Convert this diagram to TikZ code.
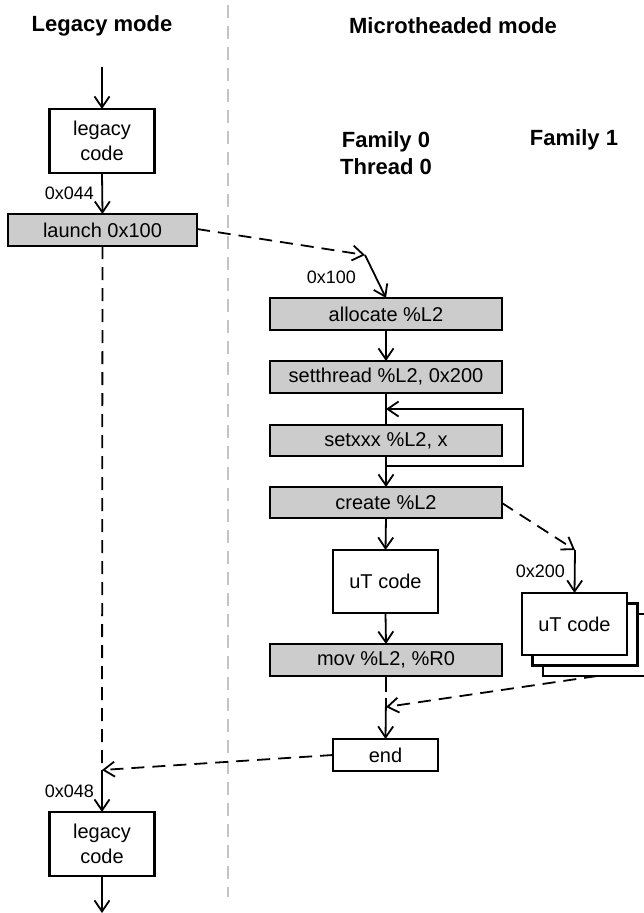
\documentclass[tikz,border=0pt]{standalone}
\usepackage{fontspec}
\setmainfont{Liberation Sans}
\usetikzlibrary{arrows.meta}
\definecolor{boxgray}{HTML}{CCCCCC}
\definecolor{divgray}{HTML}{C4C4C4}
\begin{document}
\begin{tikzpicture}[x=1pt,y=-1pt,
  every node/.style={inner sep=0pt, outer sep=0pt},
  box/.style={draw, line width=2.1pt, align=center, font=\fontsize{20}{25}\selectfont},
  graybox/.style={box, fill=boxgray, minimum width=232pt, minimum height=32pt},
  whitebox/.style={box, fill=white, minimum width=105pt},
  lbl/.style={font=\fontsize{18}{21}\selectfont, anchor=east},
  ttl/.style={font=\fontsize{22}{26}\selectfont\bfseries, align=center},
  conn/.style={line width=1.8pt, -{Straight Barb[length=11pt,width=15pt,line width=1.8pt]}},
  plain/.style={line width=1.8pt},
  dconn/.style={conn, dash pattern=on 13pt off 8pt},
  dplain/.style={plain, dash pattern=on 13pt off 8pt},
  divider/.style={line width=1.8pt, divgray, dash pattern=on 13pt off 8pt}
]
\useasboundingbox (0,0) rectangle (644,913);

% titles
\node[ttl] (tleg) at (102,26) {Legacy mode};
\node[ttl] (tmic) at (453,26) {Microtheaded mode};
\node[ttl, font=\fontsize{22}{27}\selectfont\bfseries] (tf0) at (386,153) {Family 0\\Thread 0};
\node[ttl] (tf1) at (574,140) {Family 1};

% divider
\coordinate (dtop) at (228,5);
\coordinate (dbot) at (228,897);
\draw[divider] (dtop) -- (dbot);

% legacy column
\coordinate (in) at (102,67);
\node[whitebox, minimum height=64pt] (leg1) at (102,141) {legacy\\code};
\node[graybox, minimum width=189pt] (launch) at (102.5,230) {launch 0x100};
\node[whitebox, minimum height=64pt] (leg2) at (102,844) {legacy\\code};
\coordinate (out) at (102,913);
\coordinate (j2) at (102,770);

% family 0 column
\node[graybox] (alloc) at (386,314) {allocate \%L2};
\node[graybox] (setthr) at (386,377) {setthread \%L2, 0x200};
\node[graybox, minimum height=31pt] (setxxx) at (386,440.5) {setxxx \%L2, x};
\node[graybox, minimum height=31pt] (create) at (386,502.5) {create \%L2};
\node[whitebox, minimum height=63pt] (ut0) at (385.5,581.5) {uT code};
\node[graybox] (mov) at (386,660) {mov \%L2, \%R0};
\node[whitebox, minimum height=32pt] (endn) at (385.5,755) {end};

% family 1 stack
\node[whitebox, minimum height=62pt] (ut3) at (595.5,645) {};
\node[whitebox, minimum height=62pt] (ut2) at (585,634.5) {};
\node[whitebox, minimum height=62pt] (ut1) at (574.5,624) {uT code};

% coordinates
\coordinate (c1) at (365,255);
\coordinate (c2) at (575,550);
\coordinate (j1) at (386,707);
\coordinate (m1) at (386,692);
\coordinate (m2) at (386,698);
\coordinate (l1) at (386,466);
\coordinate (l2) at (523,466);
\coordinate (l3) at (523,409);
\coordinate (l4) at (386,409);
\coordinate (s1) at (597,676);

% legacy connectors
\draw[conn] (in) -- (leg1.north);
\draw[conn] (leg1.south) -- (launch.north);
\node[lbl] (lab044) at (94,193) {0x044};
\draw[dplain] (launch.south) -- (j2);
\draw[conn] (j2) -- (leg2.north);
\node[lbl] (lab048) at (94,791) {0x048};
\draw[conn] (leg2.south) -- (out);

% launch to family 0
\draw[dconn] (launch.east |- 0,229) -- (c1);
\draw[conn] (c1) -- (alloc.north);
\node[lbl] (lab100) at (356,277) {0x100};

% family 0 flow
\draw[conn] (alloc.south) -- (setthr.north);
\draw[plain] (setthr.south) -- (setxxx.north);
\draw[conn] (l1) -- (l2) -- (l3) -- (l4);
\draw[conn] (setxxx.south) -- (create.north);
\draw[conn] (create.south) -- (ut0.north);
\draw[conn] (ut0.south) -- (mov.north);
\draw[plain] (mov.south) -- (m1);
\draw[conn] (m2) -- (endn.north);

% create to family 1
\draw[dconn] (create.east |- 0,503) -- (c2);
\draw[conn] (c2) -- (ut1.north);
\node[lbl] (lab200) at (565,571) {0x200};
\draw[dconn] (s1) -- (j1);

% end back to legacy
\draw[dconn] (endn.west) -- (j2);
\end{tikzpicture}
\end{document}
